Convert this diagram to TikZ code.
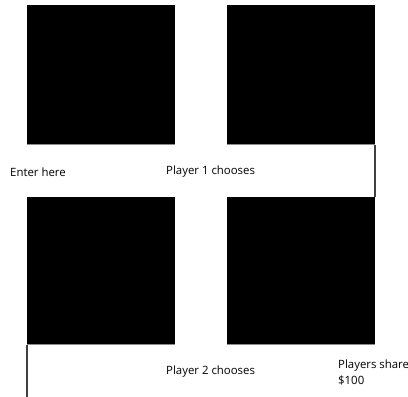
\documentclass[tikz,border=0pt]{standalone}
\usepackage{fontspec}
\setmainfont{Open Sans}
\usetikzlibrary{positioning, calc}
\definecolor{edgegray}{HTML}{8C8C8C}
\definecolor{wiregray}{HTML}{404040}

\begin{document}
\begin{tikzpicture}[
  x=1pt, y=1pt,
  blk/.style 2 args={
    fill=black, draw=none, minimum width=#1pt, minimum height=#2pt,
    inner sep=0pt, outer sep=0pt
  },
  wire/.style={line width=1.2pt, wiregray},
  rim/.style={line width=1pt, edgegray},
  lbl/.style={font=\fontsize{11.4}{16}\selectfont, anchor=west, align=left, inner sep=0pt},
]

% Canvas
\useasboundingbox (0,0) rectangle (408,397);

% =============================================
% Squares
% =============================================
\node[blk={148}{140}] (tl) at (101,322) {};
\node[blk={148}{140}] (tr) at (301,322) {};
\node[blk={148}{148}] (bl) at (101,126) {};
\node[blk={148}{148}] (br) at (301,126) {};

% grey rim along the bottom edges
\draw[rim] (tl.south west) -- (tl.south east);
\draw[rim] (tr.south west) -- (tr.south east);
\draw[rim] (bl.south west) -- (bl.south east);
\draw[rim] (br.south west) -- (br.south east);

% =============================================
% Wires
% =============================================
\coordinate (exit) at (bl.south west |- 0,0);
\draw[wire] (tr.south east) -- (br.north east);
\draw[wire] (bl.south west) -- (exit);

% =============================================
% Labels
% =============================================
\node[lbl] (enter) at (10,225) {Enter here};
\node[lbl] (p1) at (166,225) {Player 1 chooses};
\node[lbl] (p2) at (166,25) {Player 2 chooses};
\node[lbl] (share) at (338,24) {Players share\\\$100};

\end{tikzpicture}
\end{document}
